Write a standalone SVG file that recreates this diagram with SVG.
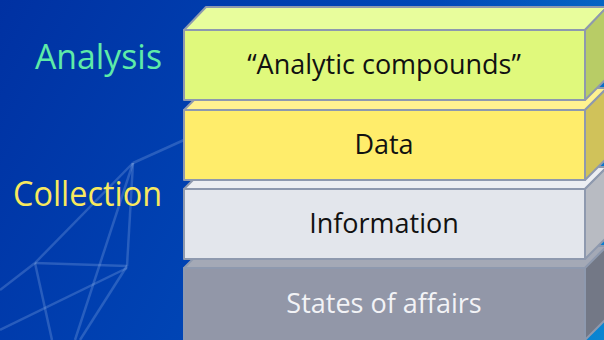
<svg xmlns="http://www.w3.org/2000/svg" width="604" height="340" viewBox="0 0 604 340">
  <defs>
    <linearGradient id="bg" x1="0" y1="0" x2="604" y2="340" gradientUnits="userSpaceOnUse">
      <stop offset="0" stop-color="#0031A2"/>
      <stop offset="0.55" stop-color="#0048B8"/>
      <stop offset="1" stop-color="#0A86D2"/>
    </linearGradient>
  </defs>
  <style>
    .edge { stroke: #8E99AE; stroke-width: 2; stroke-linejoin: round; }
    .wire { stroke: #9FC0F0; stroke-width: 2.5; fill: none; opacity: 0.25; }
    .side-label { font-family: "Open Sans", "Liberation Sans", sans-serif; font-size: 34px; }
    .box-label { font-family: "Open Sans", "Liberation Sans", sans-serif; font-size: 27px; text-anchor: middle; }
  </style>
  <rect x="0" y="0" width="604" height="340" fill="url(#bg)"/>
  <g id="background-wires">
    <line class="wire" x1="133" y1="163" x2="35" y2="263"/>
    <line class="wire" x1="133" y1="163" x2="127" y2="266"/>
    <line class="wire" x1="133" y1="163" x2="75" y2="340"/>
    <line class="wire" x1="133" y1="163" x2="184" y2="140"/>
    <line class="wire" x1="35" y1="263" x2="127" y2="266"/>
    <line class="wire" x1="35" y1="263" x2="52" y2="340"/>
    <line class="wire" x1="127" y1="266" x2="80" y2="340"/>
    <line class="wire" x1="35" y1="263" x2="0" y2="290"/>
    <line class="wire" x1="0" y1="330" x2="127" y2="268"/>
  </g>
  <g id="label-analysis">
    <text class="side-label" x="35" y="69" fill="#5EEBA8" textLength="127" lengthAdjust="spacingAndGlyphs">Analysis</text>
  </g>
  <g id="label-collection">
    <text class="side-label" x="13" y="206" fill="#F8E95E" textLength="149" lengthAdjust="spacingAndGlyphs">Collection</text>
  </g>
  <g id="layer-states">
    <polygon class="edge" points="184,268 206,246 607,246 585,268" fill="#A4A9B6"/>
    <polygon class="edge" points="585,268 607,246 607,318 585,340" fill="#737886"/>
    <rect class="edge" x="184" y="268" width="401" height="74" fill="#9297A8"/>
    <text class="box-label" x="384" y="313" fill="#F2F3F6">States of affairs</text>
  </g>
  <g id="layer-information">
    <polygon class="edge" points="184,189 206,167 607,167 585,189" fill="#ECEEF2"/>
    <polygon class="edge" points="585,189 607,167 607,237 585,259" fill="#B8BBC2"/>
    <rect class="edge" x="184" y="189" width="401" height="70" fill="#E3E6EC"/>
    <text class="box-label" x="384" y="233" fill="#111111">Information</text>
  </g>
  <g id="layer-data">
    <polygon class="edge" points="184,110 206,88 607,88 585,110" fill="#FFF290"/>
    <polygon class="edge" points="585,110 607,88 607,158 585,180" fill="#D0C25A"/>
    <rect class="edge" x="184" y="110" width="401" height="70" fill="#FFED6B"/>
    <text class="box-label" x="384" y="154" fill="#111111">Data</text>
  </g>
  <g id="layer-analysis">
    <polygon class="edge" points="184,30 206,7 607,7 585,30" fill="#E8FD9C"/>
    <polygon class="edge" points="585,30 607,7 607,78 585,100" fill="#B8CC66"/>
    <rect class="edge" x="184" y="30" width="401" height="70" fill="#E0F97C"/>
    <text class="box-label" x="384" y="74" fill="#111111">“Analytic compounds”</text>
  </g>
</svg>
